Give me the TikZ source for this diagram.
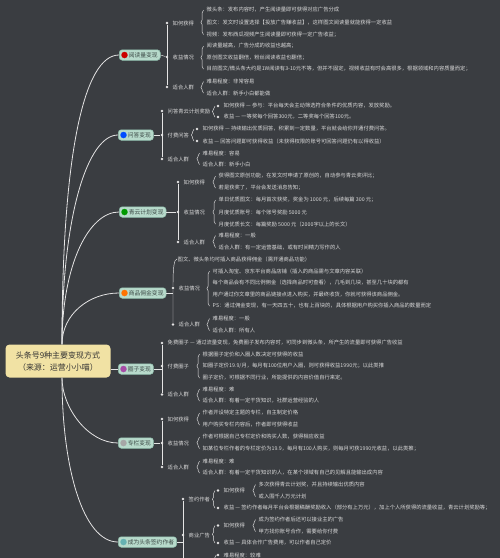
\documentclass[tikz,border=0pt]{standalone}
\usepackage{fontspec}
\setmainfont{Noto Sans CJK SC}
\usetikzlibrary{decorations.pathreplacing}
\definecolor{bg}{HTML}{3A3D41}
\definecolor{ln}{HTML}{E4E4E4}
\definecolor{txt}{HTML}{DADADA}
\definecolor{rootfill}{HTML}{F1E2A4}
\definecolor{topicfill}{HTML}{B7DACB}
\definecolor{topicline}{HTML}{8DBCAA}
\definecolor{topictext}{HTML}{3E4C48}
\tikzset{
 leaf/.style={anchor=west, inner sep=0.5pt, font=\fontsize{5.3}{6}\selectfont, text=txt},
 dotn/.style={circle, fill=ln, inner sep=0pt, minimum size=2.8pt},
 topic/.style={anchor=west, draw=topicline, fill=topicfill, rounded corners=3pt, font=\fontsize{5.8}{7}\selectfont, text=topictext, minimum height=10.5pt, inner xsep=2.5pt, inner ysep=1pt, line width=0.5pt},
 icon/.style={circle, inner sep=0pt, minimum size=6.5pt},
 br/.style={draw=ln, line width=0.45pt},
 brc/.style={br, decorate, decoration={brace, amplitude=2.6pt}},
 mainln/.style={draw=ln, line width=0.8pt},
}
\begin{document}
\begin{tikzpicture}[x=1pt, y=-1pt]
\fill[bg] (0,0) rectangle (500,558);
\useasboundingbox (0,0) rectangle (500,558);

% root
\node[fill=rootfill, rounded corners=4pt, minimum width=105pt, minimum height=33pt, align=center, font=\fontsize{8}{12}\selectfont, text=black!80] (root) at (58,361) {头条号9种主要变现方式\\（来源：运营小小喵）};

% topics
\node[topic] (t1) at (119,55) {\hspace{7pt}阅读量变现};
\node[topic] (t2) at (118,135) {\hspace{7pt}问答变现};
\node[topic] (t3) at (119,212) {\hspace{7pt}青云计划变现};
\node[topic] (t4) at (119,293) {\hspace{7pt}商品佣金变现};
\node[topic] (t5) at (118,369) {\hspace{7pt}圈子变现};
\node[topic] (t6) at (118,443) {\hspace{7pt}专栏变现};
\node[topic] (t7) at (118,542) {\hspace{7pt}成为头条签约作者};
\node[icon, fill=red!80!black] (i1) at ([xshift=5.5pt]t1.west) {};
\node[icon, fill=blue!70!cyan] (i2) at ([xshift=5.5pt]t2.west) {};
\node[icon, fill=green!60!black] (i3) at ([xshift=5.5pt]t3.west) {};
\node[icon, fill=orange!90!red] (i4) at ([xshift=5.5pt]t4.west) {};
\node[icon, fill=violet!70] (i5) at ([xshift=5.5pt]t5.west) {};
\node[icon, fill=gray!70] (i6) at ([xshift=5.5pt]t6.west) {};
\node[icon, fill=teal!60] (i7) at ([xshift=5.5pt]t7.west) {};

% main branches
\draw[mainln] ([xshift=4pt]root.north) .. controls +(0,-190) and +(-35,0) .. (t1.west);
\draw[mainln] ([xshift=4pt]root.north) .. controls +(0,-130) and +(-30,0) .. (t2.west);
\draw[mainln] ([xshift=4pt]root.north) .. controls +(0,-80) and +(-30,0) .. (t3.west);
\draw[mainln] ([xshift=4pt]root.north) .. controls +(0,-30) and +(-30,0) .. (t4.west);
\draw[mainln] (root.east |- t5.west) -- (t5.west);
\draw[mainln] ([xshift=4pt]root.south) .. controls +(0,30) and +(-30,0) .. (t6.west);
\draw[mainln] ([xshift=4pt]root.south) .. controls +(0,90) and +(-35,0) .. (t7.west);

% ===== T1 =====
\node[dotn] (d1a) at (167,23) {};
\node[dotn] (d1b) at (167,57) {};
\node[dotn] (d1c) at (167,87) {};
\draw[br] (d1a) -- (d1c);
\draw[br] (t1.east) -- (d1b);
\node[leaf] (l1a) at (172,23) {如何获得};
\node[leaf] (l1b) at (172,57) {收益情况};
\node[leaf] (l1c) at (172,87) {适合人群};
\node[leaf] (c1a1) at (206,10) {微头条：发布内容时，产生阅读量即可获得对应广告分成};
\node[leaf] (c1a2) at (206,22.5) {图文：发文时设置选择【投放广告赚收益】，这样图文阅读量就能获得一定收益};
\node[leaf] (c1a3) at (206,34.5) {视频：发布西瓜视频产生阅读量即可获得一定广告收益；};
\node[leaf] (c1b1) at (206,46) {阅读量越高，广告分成的收益也越高；};
\node[leaf] (c1b2) at (206,57.5) {原创图文收益翻倍，粉丝阅读收益也翻倍；};
\node[leaf] (c1b3) at (206,69) {目前图文/微头条大约是1W阅读有3-10元不等，但并不固定，视频收益有时会高很多，根据领域和内容质量而定；};
\node[leaf] (c1c1) at (206,81.5) {难易程度：非常容易};
\node[leaf] (c1c2) at (206,93) {适合人群：新手小白都能做};
\draw[brc] ([xshift=-2.5pt]c1a3.west) -- ([xshift=-2.5pt]c1a1.west);
\draw[brc] ([xshift=-2.5pt]c1b3.west) -- ([xshift=-2.5pt]c1b1.west);
\draw[brc] ([xshift=-2.5pt]c1c2.west) -- ([xshift=-2.5pt]c1c1.west);

% ===== T2 =====
\node[dotn] (d2a) at (162,111) {};
\node[dotn] (d2b) at (162,135) {};
\node[dotn] (d2c) at (162,159) {};
\draw[br] (d2a) -- (d2c);
\draw[br] (t2.east) -- (d2b);
\node[leaf] (l2a) at (167,111) {问答青云计划奖励};
\node[leaf] (l2b) at (167,135) {付费问答};
\node[leaf] (l2c) at (167,159) {适合人群};
\node[dotn] (e2a1) at (218,106) {};
\node[dotn] (e2a2) at (218,117) {};
\node[leaf] (c2a1) at (223,106) {如何获得 — 参与：平台每天会主动筛选符合条件的优质内容，发放奖励。};
\node[leaf] (c2a2) at (223,117) {收益 — 一等奖每个回答300元，二等奖每个回答100元。};
\draw[brc] ([xshift=-3pt]e2a2.center) -- ([xshift=-3pt]e2a1.center);
\node[dotn] (e2b1) at (197,129) {};
\node[dotn] (e2b2) at (197,141) {};
\node[leaf] (c2b1) at (202,129) {如何获得 — 持续输出优质回答，积累到一定数量，平台就会给你开通付费问答。};
\node[leaf] (c2b2) at (202,141) {收益 — 回答问题即可获得收益（未获得权限的账号可回答问题仍有以得收益）};
\draw[brc] ([xshift=-3pt]e2b2.center) -- ([xshift=-3pt]e2b1.center);
\node[leaf] (c2c1) at (202,153) {难易程度：容易};
\node[leaf] (c2c2) at (202,164.5) {适合人群：新手小白};
\draw[brc] ([xshift=-2.5pt]c2c2.west) -- ([xshift=-2.5pt]c2c1.west);

% ===== T3 =====
\node[dotn] (d3a) at (178,182) {};
\node[dotn] (d3b) at (178,212) {};
\node[dotn] (d3c) at (178,242) {};
\draw[br] (d3a) -- (d3c);
\draw[br] (t3.east) -- (d3b);
\node[leaf] (l3a) at (183,182) {如何获得};
\node[leaf] (l3b) at (183,212) {收益情况};
\node[leaf] (l3c) at (183,242) {适合人群};
\node[leaf] (c3a1) at (218,176) {获得图文原创功能，在发文时申请了原创的，自动参与青云奖评比；};
\node[leaf] (c3a2) at (218,188) {若是获奖了，平台会发送消息告知；};
\node[leaf] (c3b1) at (218,200) {单日优质图文：每月首次获奖，奖金为 1000 元，后续每篇 300 元；};
\node[leaf] (c3b2) at (218,212) {月度优质账号：每个账号奖励 5000 元};
\node[leaf] (c3b3) at (218,224) {月度优质长文：每篇奖励 5000 元（2000字以上的长文）};
\node[leaf] (c3c1) at (218,235.5) {难易程度：一般};
\node[leaf] (c3c2) at (218,247.5) {适合人群：有一定运营基础，或有时间精力写作的人};
\draw[brc] ([xshift=-2.5pt]c3a2.west) -- ([xshift=-2.5pt]c3a1.west);
\draw[brc] ([xshift=-2.5pt]c3b3.west) -- ([xshift=-2.5pt]c3b1.west);
\draw[brc] ([xshift=-2.5pt]c3c2.west) -- ([xshift=-2.5pt]c3c1.west);

% ===== T4 =====
\node[leaf] (p4) at (177,259) {图文、微头条均可插入商品获得佣金（需开通商品功能）};
\node[dotn] (d4a) at (173,288) {};
\node[dotn] (d4b) at (173,324.5) {};
\draw[br] (d4b) -- (d4a) .. controls +(0,-20) and +(-3,0) .. (p4.west);
\draw[br] (t4.east) -- (t4.east -| d4a);
\node[leaf] (l4a) at (178,288) {收益情况};
\node[leaf] (l4b) at (178,324.5) {适合人群};
\node[leaf] (c4a1) at (212,271) {可插入淘宝、京东平台商品店铺（插入的商品需与文章内容关联）};
\node[leaf] (c4a2) at (212,283) {每个商品会有不同比例佣金（选择商品时可查看），几毛到几块，甚至几十块的都有};
\node[leaf] (c4a3) at (212,294.5) {用户通过你文章里的商品链接点进入购买，并最终收货，你就可获得该商品佣金。};
\node[leaf] (c4a4) at (212,306) {PS：通过佣金变现，有一天四五十，也有上百块的，具体根据用户购买你插入商品的数量而定};
\node[leaf] (c4b1) at (212,318.5) {难易程度：一般};
\node[leaf] (c4b2) at (212,330.5) {适合人群：所有人};
\draw[brc] ([xshift=-2.5pt]c4a4.west) -- ([xshift=-2.5pt]c4a1.west);
\draw[brc] ([xshift=-2.5pt]c4b2.west) -- ([xshift=-2.5pt]c4b1.west);

% ===== T5 =====
\node[dotn] (d5a) at (162,343) {};
\node[dotn] (d5b) at (162,366) {};
\node[dotn] (d5c) at (162,394.5) {};
\draw[br] (d5a) -- (d5c);
\draw[br] (t5.east) -- (t5.east -| d5b);
\node[leaf] (l5a) at (167,343) {免费圈子 — 通过流量变现，免费圈子发布内容时，可同步到微头条，所产生的流量即可获得广告收益};
\node[leaf] (l5b) at (167,366) {付费圈子};
\node[leaf] (l5c) at (167,394.5) {适合人群};
\node[leaf] (c5b1) at (202,354) {根据圈子定价和入圈人数决定可获得的收益};
\node[leaf] (c5b2) at (202,366) {如圈子定价19.9/月，每月有100位用户入圈，则可获得收益1990元；以此类推};
\node[leaf] (c5b3) at (202,378) {圈子定价，可根据不同行业，所能提供的内容价值自行来定。};
\node[leaf] (c5c1) at (202,389) {难易程度：难};
\node[leaf] (c5c2) at (202,401) {适合人群：有着一定干货知识，社群运营经验的人};
\draw[brc] ([xshift=-2.5pt]c5b3.west) -- ([xshift=-2.5pt]c5b1.west);
\draw[brc] ([xshift=-2.5pt]c5c2.west) -- ([xshift=-2.5pt]c5c1.west);

% ===== T6 =====
\node[dotn] (d6a) at (162,419) {};
\node[dotn] (d6b) at (162,443) {};
\node[dotn] (d6c) at (162,467) {};
\draw[br] (d6a) -- (d6c);
\draw[br] (t6.east) -- (d6b);
\node[leaf] (l6a) at (167,419) {如何获得};
\node[leaf] (l6b) at (167,443) {收益情况};
\node[leaf] (l6c) at (167,467) {适合人群};
\node[leaf] (c6a1) at (202,413) {作者开设特定主题的专栏，自主制定价格};
\node[leaf] (c6a2) at (202,425) {用户购买专栏内容后，作者即可获得收益};
\node[leaf] (c6b1) at (202,437) {作者可根据自己专栏定价和购买人数，获得相应收益};
\node[leaf] (c6b2) at (202,448.5) {如某位专栏作者的专栏定价为19.9，每月有100人购买，则每月可获1990元收益，以此类推；};
\node[leaf] (c6c1) at (202,461) {难易程度：难};
\node[leaf] (c6c2) at (202,473) {适合人群：有着一定干货知识的人，在某个领域有自己的见解且能输出成内容};
\draw[brc] ([xshift=-2.5pt]c6a2.west) -- ([xshift=-2.5pt]c6a1.west);
\draw[brc] ([xshift=-2.5pt]c6b2.west) -- ([xshift=-2.5pt]c6b1.west);
\draw[brc] ([xshift=-2.5pt]c6c2.west) -- ([xshift=-2.5pt]c6c1.west);

% ===== T7 =====
\node[dotn] (d7a) at (183,499) {};
\node[dotn] (d7b) at (183,535) {};
\coordinate (d7end) at (183,560);
\draw[br] (d7a) -- (d7end);
\draw[br] (t7.east) -- (t7.east -| d7b);
\node[leaf] (l7a) at (188,499) {签约作者};
\node[leaf] (l7b) at (188,535) {商业广告};
\node[dotn] (e7a1) at (218,490.5) {};
\node[dotn] (e7a2) at (218,508) {};
\draw[brc] ([xshift=-3pt]e7a2.center) -- ([xshift=-3pt]e7a1.center);
\node[leaf] (m7a1) at (223,490.5) {如何获得};
\node[leaf] (m7a2) at (223,508) {收益 — 签约作者每月平台会根据稿酬奖励收入（部分有上万元），加上个人所获得的流量收益，青云计划奖励等；};
\node[leaf] (c7a1) at (258,484.5) {多次获得青云计划奖，并且持续输出优质内容};
\node[leaf] (c7a2) at (258,496.5) {或入围千人万元计划};
\draw[brc] ([xshift=-2.5pt]c7a2.west) -- ([xshift=-2.5pt]c7a1.west);
\node[dotn] (e7b1) at (218,525.5) {};
\node[dotn] (e7b2) at (218,543) {};
\draw[brc] ([xshift=-3pt]e7b2.center) -- ([xshift=-3pt]e7b1.center);
\node[leaf] (m7b1) at (223,525.5) {如何获得};
\node[leaf] (m7b2) at (223,543) {收益 — 具体合作广告费用，可以作者自己定价};
\node[leaf] (c7b1) at (258,519.5) {成为签约作者后还可以接业主的广告};
\node[leaf] (c7b2) at (258,531.5) {甲方找你账号合作，需要给你付费};
\draw[brc] ([xshift=-2.5pt]c7b2.west) -- ([xshift=-2.5pt]c7b1.west);
\node[dotn] (e7c) at (218,555) {};
\node[leaf] (c7c) at (223,555) {难易程度：较难};
\coordinate (e7cs) at (213,566);
\draw[br] (e7cs) .. controls +(0,-6) and +(-2,0) .. (e7c);
\end{tikzpicture}
\end{document}
